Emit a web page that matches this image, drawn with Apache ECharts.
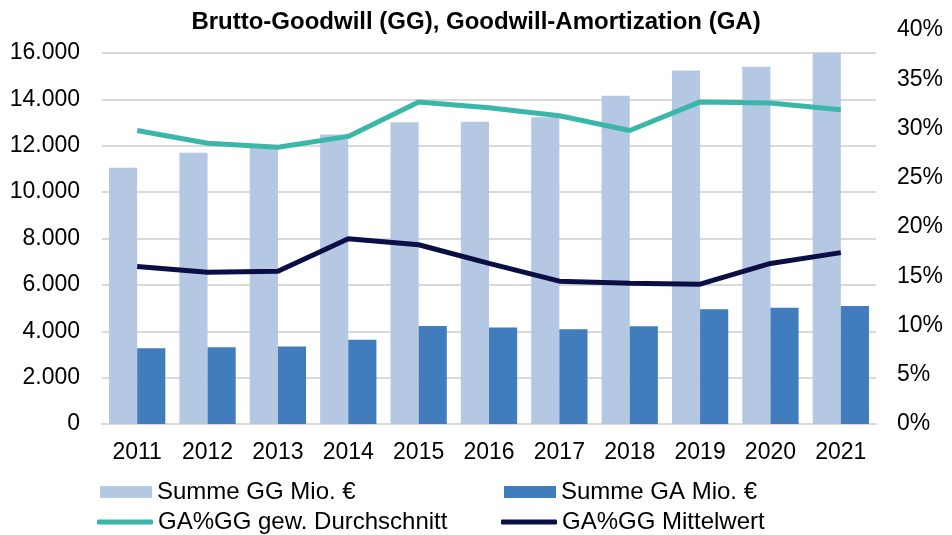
<!DOCTYPE html>
<html>
<head>
<meta charset="utf-8">
<script src="https://cdn.jsdelivr.net/npm/echarts@6/dist/echarts.min.js"></script>
<style>
html, body { margin: 0; padding: 0; background: #fff; }
#chart { width: 952px; height: 535px; }
</style>
</head>
<body>
<div id="chart"></div>
<script>
// Daten
var years = ['2011', '2012', '2013', '2014', '2015', '2016', '2017', '2018', '2019', '2020', '2021'];
var summeGG = [11050, 11700, 11950, 12490, 13010, 13040, 13230, 14160, 15240, 15410, 16000];
var summeGA = [3270, 3310, 3340, 3630, 4230, 4160, 4090, 4220, 4950, 5010, 5090];
var gewDurchschnitt = [29.8, 28.5, 28.1, 29.2, 32.7, 32.1, 31.3, 29.8, 32.7, 32.6, 31.9];
var mittelwert = [16.0, 15.4, 15.5, 18.8, 18.2, 16.3, 14.5, 14.3, 14.2, 16.3, 17.4];
var leftTicks = [0, 2000, 4000, 6000, 8000, 10000, 12000, 14000, 16000];

var chart = echarts.init(document.getElementById('chart'));

function tausender(v) {
    return String(v).replace(/\B(?=(\d{3})+(?!\d))/g, '.');
}

var font = 'Liberation Sans, Arial, sans-serif';
var legendText = { fontSize: 24, color: '#000', fontFamily: font };

// eine Legende pro Eintrag, damit die Spalten wie im Original stehen
function legende(name, left, top, w, h, icon) {
    return {
        left: left,
        top: top,
        padding: 0,
        itemWidth: w,
        itemHeight: h,
        icon: icon,
        data: [name],
        textStyle: legendText
    };
}

var option = {
    animation: false,
    textStyle: { fontFamily: font },
    title: {
        text: 'Brutto-Goodwill (GG), Goodwill-Amortization (GA)',
        left: 'center',
        top: 5,
        textStyle: { fontSize: 24, fontWeight: 'bold', color: '#000', fontFamily: font }
    },
    legend: [
        legende('Summe GG Mio. €', 100, 480, 52, 12, 'rect'),
        legende('Summe GA Mio. €', 504, 480, 52, 12, 'rect'),
        legende('GA%GG gew. Durchschnitt', 97, 510, 56, 5, 'roundRect'),
        legende('GA%GG Mittelwert', 501, 510, 56, 5, 'roundRect')
    ],
    grid: [
        { left: 102, right: 76, top: 53, bottom: 111 },
        { left: 102, right: 76, top: 30, bottom: 111 }
    ],
    xAxis: [
        {
            type: 'category',
            gridIndex: 0,
            data: years,
            axisLine: { lineStyle: { color: '#d9d9d9', width: 2 } },
            axisTick: { show: false },
            axisLabel: { fontSize: 23, color: '#000', margin: 17, fontFamily: font }
        },
        {
            type: 'category',
            gridIndex: 1,
            data: years,
            show: false
        }
    ],
    yAxis: [
        {
            type: 'value',
            gridIndex: 0,
            min: leftTicks[0],
            max: leftTicks[leftTicks.length - 1],
            interval: 2000,
            axisLine: { show: false },
            axisTick: { show: false },
            splitLine: { lineStyle: { color: '#d9d9d9', width: 2 } },
            axisLabel: {
                fontSize: 23, color: '#000', margin: 22, fontFamily: font,
                formatter: function (v) { return tausender(v); }
            }
        },
        {
            type: 'value',
            gridIndex: 1,
            position: 'right',
            min: 0,
            max: 40,
            interval: 5,
            axisLine: { show: false },
            axisTick: { show: false },
            splitLine: { show: false },
            axisLabel: {
                fontSize: 23, color: '#000', margin: 21, fontFamily: font,
                formatter: '{value}%'
            }
        }
    ],
    series: [
        {
            name: 'Summe GG Mio. €',
            type: 'bar',
            xAxisIndex: 0,
            yAxisIndex: 0,
            data: summeGG,
            barGap: 0,
            barCategoryGap: '20%',
            itemStyle: { color: '#b4c7e3' }
        },
        {
            name: 'Summe GA Mio. €',
            type: 'bar',
            xAxisIndex: 0,
            yAxisIndex: 0,
            data: summeGA,
            barGap: 0,
            barCategoryGap: '20%',
            itemStyle: { color: '#417cbd' }
        },
        {
            name: 'GA%GG gew. Durchschnitt',
            type: 'line',
            xAxisIndex: 1,
            yAxisIndex: 1,
            data: gewDurchschnitt,
            symbol: 'none',
            z: 5,
            lineStyle: { color: '#3bb7a9', width: 5 },
            itemStyle: { color: '#3bb7a9' }
        },
        {
            name: 'GA%GG Mittelwert',
            type: 'line',
            xAxisIndex: 1,
            yAxisIndex: 1,
            data: mittelwert,
            symbol: 'none',
            z: 5,
            lineStyle: { color: '#0b0e45', width: 5 },
            itemStyle: { color: '#0b0e45' }
        }
    ]
};

chart.setOption(option);

window.onresize = function () {
    chart.resize();
};
</script>
</body>
</html>
